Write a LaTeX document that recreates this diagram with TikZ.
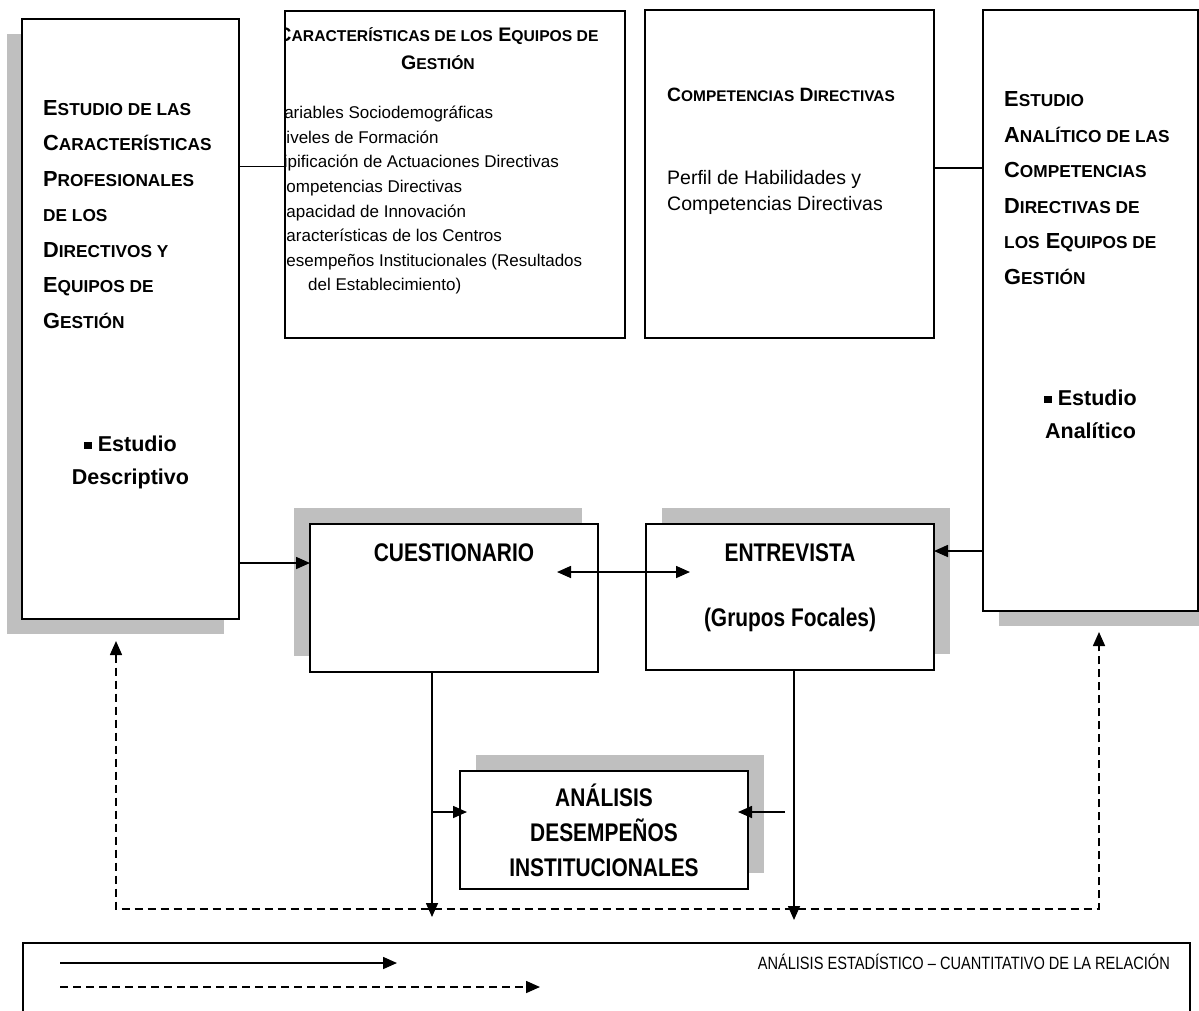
\documentclass[tikz,border=0pt]{standalone}
\usepackage{fontspec}
\usepackage{relsize}
\setmainfont{Liberation Sans}
\newfontfamily\narrowfont[FakeStretch=0.82]{Liberation Sans}
\usetikzlibrary{shadows,arrows.meta}
\definecolor{gris}{RGB}{191,191,191}
\newcommand{\smc}[1]{{\relscale{0.8}#1}}
\newcommand{\cuadrito}{\rule[2.5pt]{7.5pt}{7.5pt}}
\tikzset{
  caja/.style={draw,line width=1.6pt,inner sep=0pt,outer sep=0pt,fill=white},
  sombreado/.style 2 args={drop shadow={shadow xshift=#1,shadow yshift=#2,fill=gris,opacity=1}},
  titulo/.style={inner sep=0pt,align=left,font=\fontsize{21.8}{35.5}\selectfont\bfseries},
  viñeta/.style={inner sep=0pt,align=center,font=\fontsize{21.5}{33}\selectfont\bfseries},
  estrecha/.style={inner sep=0pt,align=center,font=\narrowfont\fontsize{25.5}{35}\selectfont\bfseries},
  flecha/.style={line width=1.6pt,-{Triangle[length=14pt,width=12pt]}},
  discont/.style={line width=1.6pt,dash pattern=on 8pt off 5pt}
}
\begin{document}
\begin{tikzpicture}[x=1pt,y=-1pt]
\useasboundingbox (0,0) rectangle (1199,1010);
\clip (0,0) rectangle (1199,1010);
% cajas
\node[caja,sombreado={-15.5pt}{-15pt},minimum width=217pt,minimum height=600pt] (estudio) at (130.5,319) {};
\node[caja,minimum width=340pt,minimum height=327pt] (caract) at (455,174.5) {};
\node[caja,minimum width=289pt,minimum height=328pt] (compet) at (789.5,174) {};
\node[caja,sombreado={16pt}{-15pt},minimum width=215pt,minimum height=601pt] (analit) at (1090.5,310.5) {};
\node[caja,sombreado={-16pt}{16pt},minimum width=288pt,minimum height=148pt] (cuest) at (454,598) {};
\node[caja,sombreado={16pt}{16pt},minimum width=288pt,minimum height=146pt] (entrev) at (790,597) {};
\node[caja,sombreado={16pt}{16pt},minimum width=288pt,minimum height=118pt] (desemp) at (604,830) {};
\node[draw,line width=2pt,inner sep=0pt,minimum width=1167pt,minimum height=120pt] (leyenda) at (606.5,1003) {};
% textos
\node[titulo,anchor=north west] (estudiotxt) at (43,100)
  {E\smc{STUDIO DE LAS}\\C\smc{ARACTERÍSTICAS}\\P\smc{ROFESIONALES}\\\smc{DE LOS}\\D\smc{IRECTIVOS Y}\\E\smc{QUIPOS DE}\\G\smc{ESTIÓN}};
\node[viñeta,anchor=north] (estudiobul) at (130.5,436) {\cuadrito{} Estudio\\Descriptivo};
\node[titulo,anchor=north west] (analittxt) at (1004,91.3)
  {E\smc{STUDIO}\\A\smc{NALÍTICO DE LAS}\\C\smc{OMPETENCIAS}\\D\smc{IRECTIVAS DE}\\\smc{LOS} E\smc{QUIPOS DE}\\G\smc{ESTIÓN}};
\node[viñeta,anchor=north] (analitbul) at (1090.5,390) {\cuadrito{} Estudio\\Analítico};
\begin{scope}
\clip (caract.south west) rectangle (caract.north east);
\node[inner sep=0pt,align=center,font=\fontsize{19.6}{28}\selectfont\bfseries,anchor=north] (caracttit) at (438,27)
  {C\smc{ARACTERÍSTICAS DE LOS} E\smc{QUIPOS DE}\\G\smc{ESTIÓN}};
\node[inner sep=0pt,align=left,font=\fontsize{17}{24.6}\selectfont,anchor=north west] (caractlst) at (274,106)
  {Variables Sociodemográficas\\Niveles de Formación\\Tipificación de Actuaciones Directivas\\Competencias Directivas\\Capacidad de Innovación\\Características de los Centros\\Desempeños Institucionales (Resultados\\\hspace*{34pt}del Establecimiento)};
\end{scope}
\node[inner sep=0pt,font=\fontsize{19.3}{24}\selectfont\bfseries,anchor=base west] (compettit) at (667,101.8)
  {C\smc{OMPETENCIAS} D\smc{IRECTIVAS}};
\node[inner sep=0pt,align=left,font=\fontsize{19.5}{26}\selectfont,anchor=north west] (competlst) at (667,170.5)
  {Perfil de Habilidades y\\Competencias Directivas};
\node[estrecha,anchor=base] (cuesttxt) at (454,561) {CUESTIONARIO};
\node[estrecha,anchor=base] (entrevtxt) at (790,561) {ENTREVISTA};
\node[estrecha,anchor=base] (grupostxt) at (790,626) {(Grupos Focales)};
\node[estrecha] (desemptxt) at (desemp) {ANÁLISIS\\DESEMPEÑOS\\INSTITUCIONALES};
\node[inner sep=0pt,font=\narrowfont\fontsize{17.8}{20}\selectfont,anchor=base east] (leyendatxt) at (1170,969.4)
  {ANÁLISIS ESTADÍSTICO – CUANTITATIVO DE LA RELACIÓN};
% conectores
\draw[line width=1.6pt] ([yshift=8pt]caract.west) -- ([yshift=8pt]caract.west -| estudio.east);
\draw[line width=1.6pt] ([yshift=6pt]compet.east) -- ([yshift=6pt]compet.east -| analit.west);
\coordinate (qin) at ([yshift=35pt]cuest.west);
\draw[flecha] (estudio.east |- qin) -- (qin);
\coordinate (ein) at ([yshift=46pt]entrev.east);
\draw[flecha] (analit.west |- ein) -- (ein);
\coordinate (ql) at (557,572);
\coordinate (er) at (690,572);
\draw[line width=1.6pt,{Triangle[length=14pt,width=12pt]}-{Triangle[length=14pt,width=12pt]}] (ql) -- (er);
\coordinate (qout) at ([xshift=122pt]cuest.south west);
\coordinate (qend) at (432,917);
\draw[flecha] (qout) -- (qend);
\coordinate (eout) at ([xshift=148pt]entrev.south west);
\coordinate (eend) at (794,920);
\draw[flecha] (eout) -- (eend);
\coordinate (ain) at ([yshift=18pt]desemp.west);
\draw[flecha,shorten >=-7pt] (qout |- ain) -- (ain);
\coordinate (aout) at ([yshift=18pt]desemp.east);
\draw[flecha,shorten <=9pt,shorten >=-10pt] (eout |- aout) -- (aout);
\coordinate (ltip) at (116,641);
\coordinate (dl) at (116,909);
\coordinate (dr) at (1099,909);
\coordinate (rtip) at (1099,632);
\draw[discont,{Triangle[length=14pt,width=12pt]}-{Triangle[length=14pt,width=12pt]}] (ltip) -- (dl) -- (dr) -- (rtip);
% leyenda
\coordinate (s0) at (60,963);
\coordinate (s1) at (397,963);
\coordinate (d0) at (60,987);
\coordinate (d1) at (540,987);
\draw[flecha] (s0) -- (s1);
\draw[flecha,dash pattern=on 8pt off 5pt] (d0) -- (d1);
\end{tikzpicture}
\end{document}
